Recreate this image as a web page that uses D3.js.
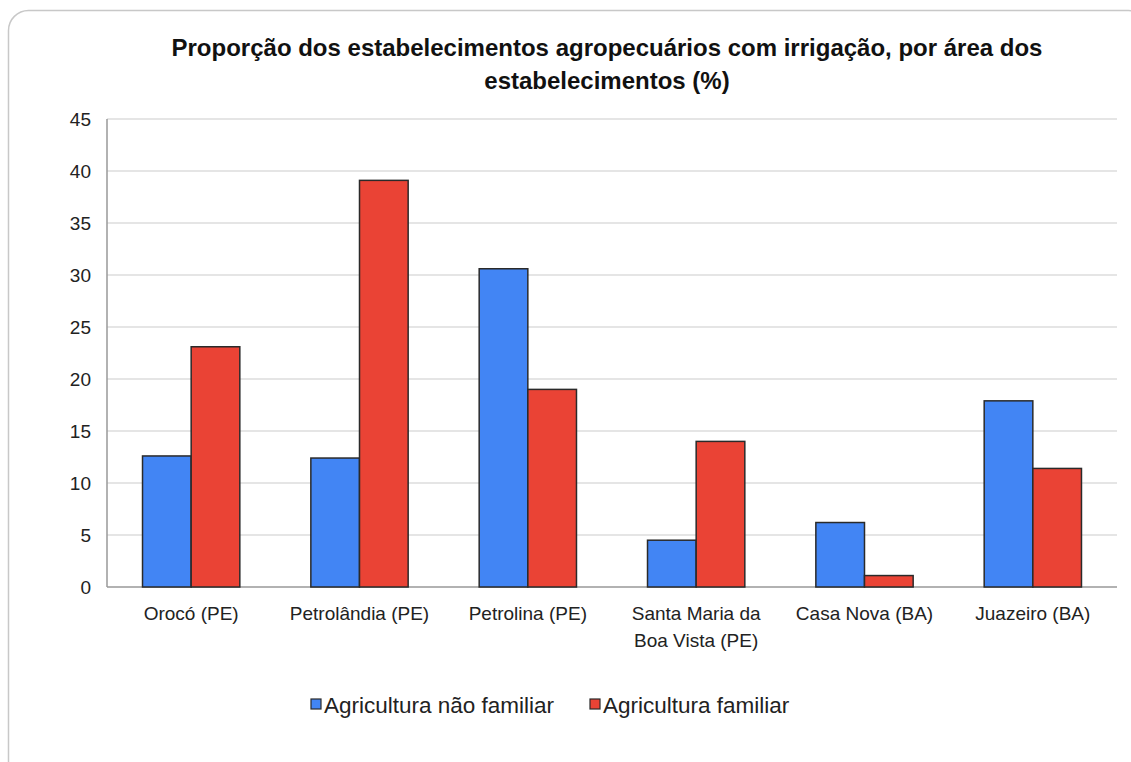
<!DOCTYPE html>
<html><head><meta charset="utf-8">
<script src="https://cdn.jsdelivr.net/npm/d3@7"></script>
<style>body{margin:0;background:#fff;} svg{display:block;font-family:"Liberation Sans",Arial,sans-serif;}</style>
</head><body><svg id="c" width="1131" height="762"></svg>
<script>
const categories = ["Orocó (PE)", "Petrolândia (PE)", "Petrolina (PE)", "Santa Maria da|Boa Vista (PE)", "Casa Nova (BA)", "Juazeiro (BA)"];
const naoFamiliar = [12.6, 12.4, 30.6, 4.5, 6.2, 17.9];
const familiar = [23.1, 39.1, 19.0, 14.0, 1.1, 11.4];
const seriesNames = ["Agricultura não familiar", "Agricultura familiar"];
const seriesColors = ["#4285F4", "#EA4335"];
const yTicks = [0, 5, 10, 15, 20, 25, 30, 35, 40, 45];
const titleLines = ["Proporção dos estabelecimentos agropecuários com irrigação, por área dos", "estabelecimentos (%)"];

const svg = d3.select("#c");
svg.append("rect").attr("x", 8.5).attr("y", 10.5).attr("width", 1140).attr("height", 770)
  .attr("rx", 20).attr("fill", "#fff").attr("stroke", "#c8c8c8").attr("stroke-width", 1.5);

const L = 107, R = 1117, T = 119, B = 587;
const x = d3.scaleBand().domain(d3.range(categories.length)).range([L, R]);
const inner = d3.scaleBand().domain([0, 1]).range([0, x.bandwidth()]).paddingInner(0).paddingOuter(0.73);
const y = d3.scaleLinear().domain([0, 45]).range([B, T]);

// grid
svg.append("g").selectAll("line").data(yTicks.filter(d => d > 0)).join("line")
  .attr("x1", L).attr("x2", R).attr("y1", d => y(d)).attr("y2", d => y(d))
  .attr("stroke", "#dcdcdc").attr("stroke-width", 1.5);

// y axis labels
svg.append("g").selectAll("text").data(yTicks).join("text")
  .attr("x", 91).attr("y", d => y(d)).attr("dy", "0.36em").attr("text-anchor", "end")
  .attr("font-size", 19).attr("fill", "#222").text(d => d);

// axis lines
svg.append("line").attr("x1", L).attr("x2", L).attr("y1", T).attr("y2", B).attr("stroke", "#999").attr("stroke-width", 1.5);
svg.append("line").attr("x1", L).attr("x2", R).attr("y1", B).attr("y2", B).attr("stroke", "#999").attr("stroke-width", 1.5);

// bars
const data = categories.map((c, i) => [naoFamiliar[i], familiar[i]]);
const g = svg.append("g").selectAll("g").data(data).join("g").attr("transform", (d, i) => `translate(${x(i)},0)`);
g.selectAll("rect").data(d => d).join("rect")
  .attr("x", (d, j) => inner(j)).attr("width", inner.bandwidth())
  .attr("y", d => y(d)).attr("height", d => B - y(d))
  .attr("fill", (d, j) => seriesColors[j]).attr("stroke", "#2a2a2a").attr("stroke-width", 1.5);

// category labels
const cl = svg.append("g").selectAll("text").data(categories).join("text")
  .attr("x", (d, i) => x(i) + x.bandwidth() / 2).attr("y", 620)
  .attr("text-anchor", "middle").attr("font-size", 19).attr("fill", "#222");
cl.each(function(d) {
  const parts = d.split("|");
  d3.select(this).selectAll("tspan").data(parts).join("tspan")
    .attr("x", d3.select(this).attr("x")).attr("dy", (p, k) => k === 0 ? 0 : 27).text(p => p);
});

// title
svg.append("g").selectAll("text").data(titleLines).join("text")
  .attr("x", 607).attr("y", (d, i) => 56 + i * 33).attr("text-anchor", "middle")
  .attr("font-size", 24).attr("font-weight", "bold").attr("fill", "#111").text(d => d);

// legend
const legX = [311, 590];
const lg = svg.append("g").selectAll("g").data(seriesNames).join("g")
  .attr("transform", (d, i) => `translate(${legX[i]},705)`);
lg.append("rect").attr("x", 0).attr("y", -6).attr("width", 10).attr("height", 10)
  .attr("fill", (d, i) => seriesColors[i]).attr("stroke", "#2a2a2a").attr("stroke-width", 1.2);
lg.append("text").attr("x", 13).attr("y", 0).attr("dy", "0.36em").attr("font-size", 22.5).attr("fill", "#222").text(d => d);
</script></body></html>
